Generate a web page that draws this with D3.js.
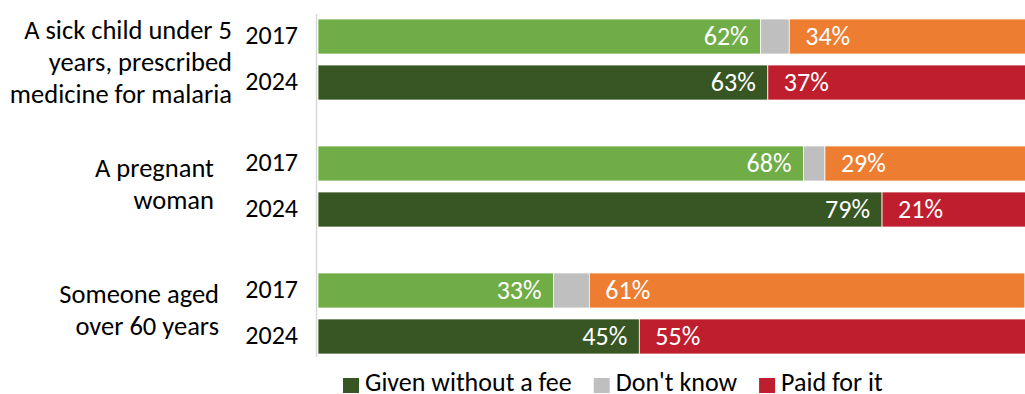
<!DOCTYPE html>
<html>
<head>
<meta charset="utf-8">
<script src="https://cdn.jsdelivr.net/npm/d3@7"></script>
<style>
  body { margin: 0; background: #fff; }
  svg text { font-family: Carlito, Calibri, "Open Sans", sans-serif; }
</style>
</head>
<body>
<svg id="chart" width="1025" height="394"></svg>
<script>
// categories (each one wrapped onto lines as in the original)
var groupLines = [
	["A sick child under 5", "years, prescribed", "medicine for malaria"],
	["A pregnant", "woman"],
	["Someone aged", "over 60 years"]
];
var years = ["2017", "2024"];

// percentages per group
var given2017 = [62, 68, 33];
var dontKnow2017 = [4, 3, 5];
var paid2017 = [34, 29, 61];
var given2024 = [63, 79, 45];
var dontKnow2024 = [0, 0, 0];
var paid2024 = [37, 21, 55];

var legendLabels = ["Given without a fee", "Don't know", "Paid for it"];

var colors = {
	"2017": ["#70ad47", "#bfbfbf", "#ed7d31"],
	"2024": ["#375623", "#bfbfbf", "#be1e2d"]
};
var legendColors = ["#375623", "#bfbfbf", "#be1e2d"];

//right edge of each category label block
var labelRight = [232, 214, 219];

var fontSize = "26px";
var svg = d3.select("#chart");

var rows = [];
groupLines.forEach(function(lines, i){
	rows.push({group: i, year: "2017", vals: [given2017[i], dontKnow2017[i], paid2017[i]]});
	rows.push({group: i, year: "2024", vals: [given2024[i], dontKnow2024[i], paid2024[i]]});
});

var x = d3.scaleLinear().domain([0, 100]).range([318, 1032]);
var yGroup = d3.scaleBand().domain(d3.range(groupLines.length)).range([19, 354]).paddingInner(0.362).paddingOuter(0);
var yYear = d3.scaleBand().domain(years).range([0, yGroup.bandwidth()]).paddingInner(0.239).paddingOuter(0);

function rowY(d){ return yGroup(d.group) + yYear(d.year); }

//bars
rows.forEach(function(r){
	var start = 0;
	r.vals.forEach(function(v, k){
		if(v > 0){
			svg.append("rect")
				.attr("x", x(start))
				.attr("y", rowY(r))
				.attr("width", x(start + v) - x(start))
				.attr("height", yYear.bandwidth())
				.style("fill", colors[r.year][k])
				.style("stroke", "#ffffff")
				.style("stroke-width", 0.75);
		}
		start += v;
	});
	var cy = rowY(r) + yYear.bandwidth() / 2;
	//label of the "given" part, inside at its end
	svg.append("text")
		.attr("x", x(r.vals[0]) - 12)
		.attr("y", cy)
		.attr("dy", "0.33em")
		.attr("text-anchor", "end")
		.style("font-size", fontSize)
		.style("fill", "#ffffff")
		.text(r.vals[0] + "%");
	//label of the "paid" part, inside at its base
	svg.append("text")
		.attr("x", x(r.vals[0] + r.vals[1]) + 16)
		.attr("y", cy)
		.attr("dy", "0.33em")
		.attr("text-anchor", "start")
		.style("font-size", fontSize)
		.style("fill", "#ffffff")
		.text(r.vals[2] + "%");
	//year label
	svg.append("text")
		.attr("x", 298)
		.attr("y", cy)
		.attr("dy", "0.27em")
		.attr("text-anchor", "end")
		.style("font-size", fontSize)
		.style("fill", "#000")
		.text(r.year);
});

//vertical axis line
svg.append("line")
	.attr("x1", 316.5).attr("x2", 316.5)
	.attr("y1", 14).attr("y2", 357)
	.style("stroke", "#d9d9d9")
	.style("stroke-width", 1.5);

//category labels
var lineH = 32;
groupLines.forEach(function(lines, i){
	var cy = yGroup(i) + yGroup.bandwidth() / 2;
	var shift = lines.length > 2 ? 11 : 6;
	lines.forEach(function(t, j){
		svg.append("text")
			.attr("x", labelRight[i])
			.attr("y", cy + (j - (lines.length - 1) / 2) * lineH + shift)
			.attr("text-anchor", "end")
			.style("font-size", "26.5px")
			.style("fill", "#000")
			.text(t);
	});
});

//legend
var lx = 343;
legendLabels.forEach(function(lab, i){
	svg.append("rect")
		.attr("x", lx).attr("y", 378)
		.attr("width", 16).attr("height", 15)
		.style("fill", legendColors[i]);
	var t = svg.append("text")
		.attr("x", lx + 22)
		.attr("y", 391)
		.style("font-size", fontSize)
		.style("fill", "#000")
		.text(lab);
	lx += 22 + t.node().getComputedTextLength() + 22;
});
</script>
</body>
</html>
